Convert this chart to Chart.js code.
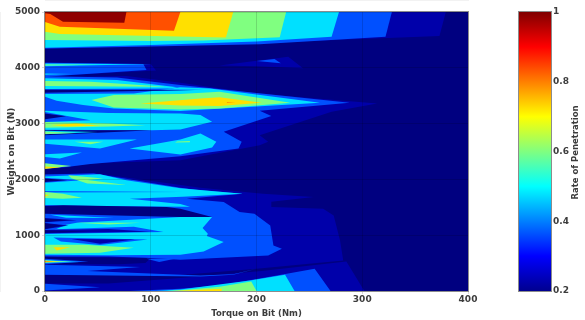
<!DOCTYPE html>
<html>
<head>
<meta charset="utf-8">
<script src="https://cdn.jsdelivr.net/npm/chart.js@4"></script>
<style>
    html, body { margin: 0; padding: 0; background: #fff; }
    canvas { position: absolute; top: 0; }
    #mapChart { left: 0; }
    #barChart { left: 500px; }
</style>
</head>
<body>
<canvas id="mapChart" width="480" height="320"></canvas>
<canvas id="barChart" width="85" height="320"></canvas>
<script>
// Contour outlines, as [torque Nm, weight N] pairs
const bandDark = [
    [[0,5000],[379,5000],[373,4570],[238,4470],[100,4395],[0,4340]],
    [[165,4040],[230,4199],[244,3990],[200,4030]],
    [[0,4100],[100,4070],[105,3950],[0,3850]],
    [[0,3830],[77,3853],[128,3733],[200,3541],[314,3362],[271,3212],[203,2793],[211,2673],[203,2613],[128,2343],[41,2285],[20,2210],[0,2190]],
    [[0,2090],[46,2115],[147,1850],[206,1745],[254,1685],[214,1600],[214,1505],[263,1475],[273,1355],[279,907],[282,548],[200,400],[128,285],[0,285]],
    [[0,135],[60,135],[128,235],[205,360],[285,530],[302,0],[0,0]]
];
const bandBlue = [
    [[0,5000],[328,5000],[322,4558],[203,4420],[100,4380],[0,4347]],
    [[200,4122],[217,4158],[223,4080]],
    [[0,4090],[93,4067],[96,3959],[0,3840]],
    [[0,3850],[68,3826],[128,3690],[288,3374],[203,3230],[214,3134],[169,2853],[186,2673],[183,2553],[128,2415],[84,2343],[43,2275],[20,2224],[0,2194]],
    [[0,2090],[46,2104],[128,1850],[147,1805],[187,1745],[134,1655],[169,1595],[184,1415],[198,1385],[213,1176],[216,817],[224,757],[211,637],[128,560],[100,590],[60,620],[0,620]],
    [[0,128],[52,68],[0,8]],
    [[80,0],[128,40],[165,100],[222,285],[255,398],[270,0]]
];
const bandCyan = [
    [[0,5000],[278,5000],[271,4558],[200,4470],[100,4410],[0,4360]],
    [[0,4075],[100,4063],[70,4055],[0,4030]],
    [[0,3900],[26,3890],[0,3875]],
    [[0,3811],[68,3781],[125,3650],[118,3630],[0,3619]],
    [[0,3530],[84,3541],[128,3650],[156,3631],[260,3374],[128,3224],[65,3272],[36,3332],[11,3410],[0,3482]],
    [[0,3230],[60,3190],[128,3182],[147,3152],[158,3032],[128,2894],[101,2882],[0,2890]],
    [[0,2715],[87,2715],[52,2553],[0,2640]],
    [[0,2450],[35,2481],[14,2373],[0,2403]],
    [[80,2553],[128,2715],[147,2823],[162,2673],[158,2571],[128,2445]],
    [[0,2050],[52,2092],[77,1984],[128,1840],[187,1745],[130,1690],[80,1655],[128,1560],[137,1510],[60,1520],[0,1540]],
    [[20,1188],[30,1224],[128,1325],[158,1325],[149,1128],[154,1026],[153,984],[169,876],[150,708],[128,648],[60,640],[0,650],[0,1020]],
    [[105,0],[128,25],[194,190],[227,290],[236,0]]
];
const bandGreen = [
    [[0,5000],[228,5000],[222,4547],[150,4490],[100,4480],[0,4497]],
    [[0,4060],[50,4055],[0,4040]],
    [[0,3763],[43,3751],[115,3661],[68,3667],[0,3673]],
    [[44,3422],[65,3511],[128,3530],[165,3571],[232,3374],[165,3272],[128,3254],[65,3290]],
    [[0,3030],[60,3000],[95,2970],[60,2950],[0,2925]],
    [[28,2673],[55,2673],[43,2630]],
    [[125,2680],[137,2690],[137,2665],[123,2660]],
    [[0,2290],[25,2240],[0,2190]],
    [[115,0],[128,12],[165,75],[195,170],[200,0]]
];
const bandYellow = [
    [[0,5000],[178,5000],[171,4545],[14,4605],[0,4647]],
    [[90,3362],[147,3452],[165,3470],[205,3374],[165,3314],[128,3326]],
    [[5,2975],[30,3000],[52,2960],[20,2950]],
    [[0,2230],[15,2215],[0,2190]],
    [[120,0],[167,40],[167,0]]
];
const bandOrange = [
    [[0,5000],[128,5000],[122,4665],[14,4736],[0,4820]],
    [[172,3380],[180,3374],[172,3368]]
];
const bandRed = [
    [[0,5000],[77,5000],[75,4808],[17,4826],[5,4964],[0,4976]]
];
// Lower ridges that cut through the bands above
const gapBlue = [
    [[0,3620],[150,3605],[0,3540]],
    [[0,3210],[43,3062],[0,3030]],
    [[0,2030],[35,1985],[0,1940]],
    [[0,1790],[130,1775],[0,1765]],
    [[0,1100],[17,1110],[84,1150],[112,1056],[0,1020]],
    [[8,960],[97,925],[52,825],[15,885]]
];
const gapDark = [
    [[0,1310],[30,1270],[0,1230]],
    [[0,1220],[22,1175],[0,1105]],
    [[0,1095],[60,1110],[100,1060],[0,1035]],
    [[25,930],[85,925],[52,845]]
];
const gapNavy = [
    [[0,3605],[142,3600],[0,3555]],
    [[0,3180],[20,3130],[0,3080]],
    [[0,2880],[101,2880],[0,2790]],
    [[0,2014],[21,1985],[0,1954]],
    [[0,1523],[17,1535],[115,1505],[128,1475],[158,1325],[128,1325],[68,1355],[0,1385]],
    [[0,1296],[20,1270],[0,1240]],
    [[0,1210],[17,1175],[0,1116]],
    [[0,1085],[43,1070],[0,1040]],
    [[0,615],[25,605],[100,590],[95,500],[70,480],[0,480]]
];
// Narrow streaks along the left edge, on top of everything else
const streakBlue = [
    [[0,580],[41,530],[0,480]],
    [[0,470],[90,428],[40,360],[147,280],[178,300],[200,398],[178,290],[147,260],[0,290]],
    [[96,578],[123,578],[108,518]]
];
const streakCyan = [
    [[0,2870],[50,2850],[0,2810]],
    [[5,1365],[65,1307],[20,1314]],
    [[0,555],[33,520],[0,505]],
    [[150,276],[175,300],[160,285]]
];
const streakGreen = [
    [[22,2074],[55,2014],[40,1990],[77,1900],[40,1925],[25,2020]],
    [[0,1775],[17,1745],[35,1673],[17,1655],[0,1667]],
    [[30,1224],[90,1224],[60,1190]],
    [[0,828],[36,828],[84,774],[52,685],[0,667]],
    [[0,2860],[30,2830],[0,2815]],
    [[0,548],[25,525],[0,510]]
];
const streakYellow = [
    [[0,1730],[4,1720],[0,1695]],
    [[8,786],[24,786],[11,726]],
    [[0,540],[14,525],[0,517]]
];
const streakRed = [
    [[0,535],[8,527],[0,522]]
];

const torqueTicks = [0, 100, 200, 300, 400];
const weightTicks = [0, 1000, 2000, 3000, 4000, 5000];
const rateRange = [0.2, 1];
const rateTicks = [0.2, 0.4, 0.6, 0.8, 1];
const jetColors = ['#00008f', '#0000ff', '#00ffff', '#80ff80', '#ffff00', '#ff0000', '#800000'];
const jetPositions = [0, 0.125, 0.375, 0.5, 0.625, 0.875, 1];

const navy = '#000080', dark = '#0000aa', blue = '#0050ff', cyan = '#00e0ff',
    green = '#80ff80', yellow = '#ffe000', orange = '#ff5000', red = '#900000';

// Painter's order, lowest first
const layers = [
    [bandDark, dark], [bandBlue, blue], [bandCyan, cyan], [bandGreen, green],
    [bandYellow, yellow], [bandOrange, orange], [bandRed, red],
    [gapBlue, blue], [gapDark, dark], [gapNavy, navy],
    [streakBlue, blue], [streakCyan, cyan], [streakGreen, green],
    [streakYellow, yellow], [streakRed, orange]
];

const textColor = '#3c3c3c';
const tickFont = { family: 'DejaVu Sans', size: 9, weight: 'bold' };
const titleFont = { family: 'DejaVu Sans', size: 8.5, weight: 'bold' };

// Grey box around a plot area
const framePlugin = {
    id: 'frame',
    afterDraw(chart) {
        const { ctx, chartArea: a } = chart;
        ctx.save();
        ctx.strokeStyle = '#8c8c8c';
        ctx.strokeRect(a.left - 0.5, a.top - 0.5, a.right - a.left + 1, a.bottom - a.top + 1);
        ctx.restore();
    }
};

function setupMapChart() {
    const datasets = [];
    layers.forEach(([polygons, color]) => {
        polygons.forEach(polygon => {
            datasets.push({
                data: polygon.map(p => ({ x: p[0], y: p[1] })),
                showLine: true,
                fill: 'shape',
                backgroundColor: color,
                borderWidth: 0,
                pointRadius: 0,
                tension: 0
            });
        });
    });
    // Chart.js paints the first dataset last
    datasets.reverse();

    new Chart(document.getElementById('mapChart').getContext('2d'), {
        type: 'scatter',
        data: { datasets },
        plugins: [framePlugin, {
            id: 'navyFloor',
            beforeDatasetsDraw(chart) {
                const { ctx, chartArea: a } = chart;
                ctx.fillStyle = navy;
                ctx.fillRect(a.left, a.top, a.right - a.left, a.bottom - a.top);
            }
        }],
        options: {
            responsive: false,
            animation: false,
            layout: { padding: { top: 12, right: 12, left: 0, bottom: 0 } },
            plugins: { legend: { display: false }, tooltip: { enabled: false } },
            scales: {
                x: {
                    min: torqueTicks[0],
                    max: torqueTicks[torqueTicks.length - 1],
                    afterFit: s => { s.height = 29; },
                    afterBuildTicks: s => { s.ticks = torqueTicks.map(value => ({ value })); },
                    ticks: { color: textColor, font: tickFont, maxRotation: 0, padding: 0, callback: value => String(value) },
                    grid: { color: 'rgba(0,0,0,0.14)', z: 1, tickLength: 3 },
                    title: { display: true, text: 'Torque on Bit (Nm)', color: textColor, font: titleFont, padding: { top: 0, bottom: 1 } }
                },
                y: {
                    min: weightTicks[0],
                    max: weightTicks[weightTicks.length - 1],
                    afterFit: s => { s.width = 45; },
                    afterBuildTicks: s => { s.ticks = weightTicks.map(value => ({ value })); },
                    ticks: { color: textColor, font: tickFont, padding: 2, callback: value => String(value) },
                    grid: { color: 'rgba(0,0,0,0.14)', z: 1, tickLength: 3 },
                    title: { display: true, text: 'Weight on Bit (N)', color: textColor, font: { family: 'DejaVu Sans', size: 9, weight: 'bold' }, padding: { top: 6, bottom: 0 } }
                }
            }
        }
    });
}

function setupBarChart() {
    new Chart(document.getElementById('barChart').getContext('2d'), {
        type: 'bar',
        data: {
            labels: [''],
            datasets: [{
                data: [rateRange],
                barPercentage: 1,
                categoryPercentage: 1,
                backgroundColor: context => {
                    const area = context.chart.chartArea;
                    if (!area) return jetColors[0];
                    const gradient = context.chart.ctx.createLinearGradient(0, area.bottom, 0, area.top);
                    jetColors.forEach((color, i) => gradient.addColorStop(jetPositions[i], color));
                    return gradient;
                }
            }]
        },
        plugins: [framePlugin, {
            id: 'rateTitle',
            afterDraw(chart) {
                const { ctx, chartArea: a } = chart;
                ctx.save();
                ctx.translate(76, (a.top + a.bottom) / 2 + 1);
                ctx.rotate(-Math.PI / 2);
                ctx.textAlign = 'center';
                ctx.textBaseline = 'middle';
                ctx.fillStyle = textColor;
                ctx.font = 'bold 8.5px "DejaVu Sans"';
                ctx.fillText('Rate of Penetration', 0, 0);
                ctx.restore();
            }
        }],
        options: {
            responsive: false,
            animation: false,
            layout: { padding: { top: 12, bottom: 29, left: 19, right: 0 } },
            plugins: { legend: { display: false }, tooltip: { enabled: false } },
            scales: {
                x: { display: false },
                y: {
                    position: 'right',
                    min: rateRange[0],
                    max: rateRange[1],
                    afterFit: s => { s.width = 34; },
                    afterBuildTicks: s => { s.ticks = rateTicks.map(value => ({ value })); },
                    ticks: { color: textColor, font: tickFont, padding: 1, callback: value => String(value) },
                    grid: { drawOnChartArea: false, color: '#666', tickLength: 1 },
                    border: { display: false }
                }
            }
        }
    });
}

setupMapChart();
setupBarChart();
</script>
</body>
</html>
